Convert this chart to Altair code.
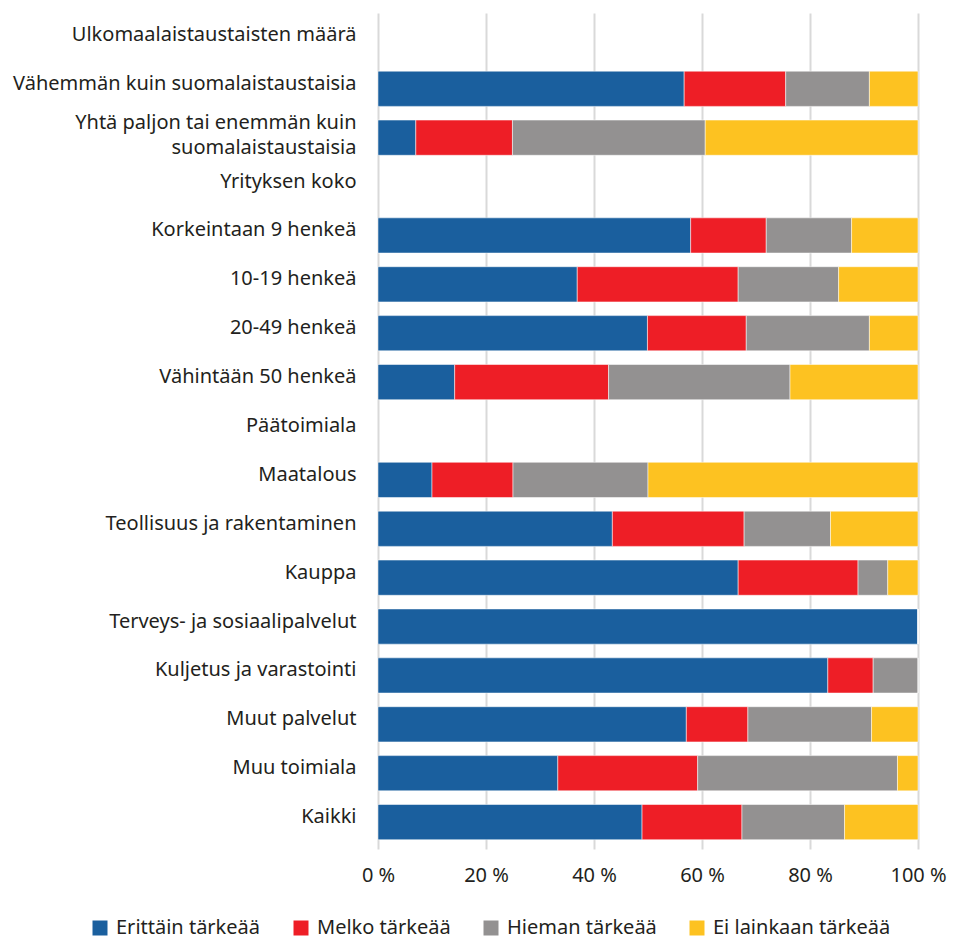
import altair as alt
import pandas as pd

categories = [
    "Ulkomaalaistaustaisten määrä",
    "Vähemmän kuin suomalaistaustaisia",
    "Yhtä paljon tai enemmän kuin|suomalaistaustaisia",
    "Yrityksen koko",
    "Korkeintaan 9 henkeä",
    "10-19 henkeä",
    "20-49 henkeä",
    "Vähintään 50 henkeä",
    "Päätoimiala",
    "Maatalous",
    "Teollisuus ja rakentaminen",
    "Kauppa",
    "Terveys- ja sosiaalipalvelut",
    "Kuljetus ja varastointi",
    "Muut palvelut",
    "Muu toimiala",
    "Kaikki",
]

series = ["Erittäin tärkeää", "Melko tärkeää", "Hieman tärkeää", "Ei lainkaan tärkeää"]
colors = ["#1A5F9E", "#EE1E26", "#939191", "#FDC221"]

erittain = [None, 56.7, 7.0, None, 57.9, 36.9, 49.9, 14.2, None, 10.0, 43.4, 66.7, 100.0, 83.3, 57.1, 33.3, 48.9]
melko    = [None, 18.8, 17.9, None, 14.0, 29.8, 18.3, 28.5, None, 15.0, 24.4, 22.2, 0.0, 8.4, 11.4, 25.9, 18.5]
hieman   = [None, 15.5, 35.7, None, 15.8, 18.6, 22.8, 33.6, None, 25.0, 16.0, 5.5, 0.0, 8.3, 22.9, 37.0, 19.0]
ei       = [None, 9.0, 39.4, None, 12.3, 14.7, 9.0, 23.7, None, 50.0, 16.2, 5.6, 0.0, 0.0, 8.6, 3.8, 13.6]

rows = []
for i, cat in enumerate(categories):
    for k, vals in enumerate([erittain, melko, hieman, ei]):
        v = vals[i]
        if v is None:
            continue
        rows.append({"category": cat, "series": series[k], "value": v, "order": k})
df = pd.DataFrame(rows)

FONT = "Noto Sans"

chart = alt.Chart(df).mark_bar(stroke="white", strokeWidth=1, strokeOpacity=0.5).encode(
    y=alt.Y(
        "category:N",
        sort=categories,
        scale=alt.Scale(domain=categories, paddingInner=0.28, paddingOuter=0.19),
        axis=alt.Axis(
            title=None,
            ticks=False,
            domain=False,
            labelFontSize=20,
            labelFont=FONT,
            labelColor="#231F20",
            labelPadding=22,
            labelOffset={"condition": {"test": "indexof(datum.value, '|') >= 0", "value": -15}, "value": -5},
            labelLimit=500,
            labelLineHeight=25,
            labelExpr="split(datum.label, '|')",
            minExtent=370,
            maxExtent=370,
        ),
    ),
    x=alt.X(
        "value:Q",
        stack="zero",
        scale=alt.Scale(domain=[0, 100], nice=False),
        axis=alt.Axis(
            title=None,
            values=[0, 20, 40, 60, 80, 100],
            labelExpr="datum.value + ' %'",
            labelFlush=False,
            ticks=False,
            domain=False,
            grid=True,
            gridColor="#D9D9D9",
            gridWidth=2,
            labelFontSize=20,
            labelFont=FONT,
            labelColor="#231F20",
            labelPadding=16,
        ),
    ),
    color=alt.Color(
        "series:N",
        scale=alt.Scale(domain=series, range=colors),
        legend=alt.Legend(
            title=None,
            orient="none",
            direction="horizontal",
            legendX=-288,
            legendY=905,
            symbolType="square",
            symbolSize=225,
            symbolStrokeWidth=0,
            labelFontSize=20,
            labelFont=FONT,
            labelColor="#231F20",
            labelOffset=6,
            columnPadding=30,
            labelLimit=300,
        ),
    ),
    order=alt.Order("order:Q"),
).properties(
    width=540,
    height=836,
    padding={"left": 0, "top": 5, "right": 0, "bottom": 5},
).configure_view(stroke=None)

chart.save("out.html", embed_options={"renderer": "svg", "actions": False})
